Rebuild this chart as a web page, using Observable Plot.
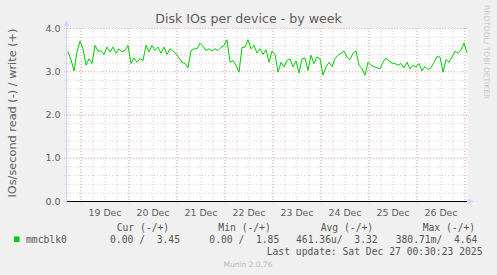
<!DOCTYPE html>
<html>
<head>
<meta charset="utf-8">
<script src="https://cdn.jsdelivr.net/npm/d3@7"></script>
<script src="https://cdn.jsdelivr.net/npm/@observablehq/plot@0.6"></script>
<style>
  html, body { margin: 0; padding: 0; background: #f0f0f0; }
  #chart { width: 497px; height: 275px; }
  svg text { white-space: pre; }
</style>
</head>
<body>
<div id="chart"></div>
<script>
// ---- data ----
const title = "Disk IOs per device - by week";
const yLabel = "IOs/second read (-) / write (+)";
const seriesName = "mmcblk0";
const firstSample = Date.UTC(2025, 11, 18, 17, 30);
const sampleStepHours = 1.5;
const writeValues = [
  3.46, 3.28, 3.02, 3.46, 3.71, 3.53, 3.15, 3.30, 3.19, 3.61,
  3.48, 3.48, 3.40, 3.57, 3.46, 3.57, 3.43, 3.53, 3.46, 3.49,
  3.61, 3.19, 3.32, 3.22, 3.30, 3.26, 3.61, 3.46, 3.61, 3.49,
  3.57, 3.43, 3.57, 3.40, 3.53, 3.48, 3.42, 3.32, 3.22, 3.19,
  3.09, 3.49, 3.53, 3.53, 3.66, 3.59, 3.49, 3.53, 3.48, 3.53,
  3.49, 3.56, 3.61, 3.74, 3.22, 3.26, 3.15, 2.99, 3.56, 3.57,
  3.74, 3.53, 3.61, 3.43, 3.53, 3.40, 3.51, 3.22, 3.48, 3.40,
  2.99, 3.22, 3.11, 3.26, 3.30, 3.11, 3.25, 2.97, 3.30, 3.32,
  3.03, 3.38, 3.19, 3.34, 3.30, 2.92, 3.11, 3.22, 3.12, 3.30,
  3.38, 3.43, 3.48, 3.34, 3.28, 3.43, 3.48, 3.15, 3.07, 2.92,
  3.22, 3.15, 3.12, 3.09, 3.07, 3.22, 3.32, 3.25, 3.20, 3.19,
  3.15, 3.19, 3.09, 3.22, 3.07, 3.15, 3.11, 3.19, 3.02, 3.12,
  3.05, 3.09, 3.22, 3.35, 3.34, 2.99, 3.28, 3.22, 3.34, 3.48,
  3.43, 3.51, 3.66, 3.45
];
const xStart = Date.UTC(2025, 11, 18, 17, 15);
const xEnd = Date.UTC(2025, 11, 27, 1, 15);
const xLabelDays = [19, 20, 21, 22, 23, 24, 25, 26];
const yTicks = [0, 1, 2, 3, 4];
const legendHeaders = ["Cur (-/+)", "Min (-/+)", "Avg (-/+)", "Max (-/+)"];
const legendValues = ["0.00 /  3.45", "0.00 /  1.85", "461.36u/  3.32", "380.71m/  4.64"];
const lastUpdate = "Last update: Sat Dec 27 00:30:23 2025";
const footer = "Munin 2.0.76";
const watermark = "RRDTOOL/ TOBI OETIKER";

// ---- build ----
const data = writeValues.map((v, i) => ({
  t: new Date(firstSample + i * sampleStepHours * 3600e3),
  v
}));
const xLabelDates = xLabelDays.map(d => new Date(Date.UTC(2025, 11, d, 12)));
const minorX = d3.utcHour.every(6).range(new Date(xStart), new Date(xEnd));
const majorX = d3.utcDay.range(new Date(xStart), new Date(xEnd));
const minorY = d3.ticks(0, 4, 20);

const gridGrey = "#d2d2d2";
const gridRed = "#eaa8a8";
const fontColor = "#5e5e5e";

const chart = Plot.plot({
  width: 497,
  height: 275,
  marginLeft: 67,
  marginRight: 30,
  marginTop: 28,
  marginBottom: 74,
  style: {background: "transparent", fontFamily: "DejaVu Sans", color: fontColor, overflow: "visible"},
  x: {type: "utc", domain: [new Date(xStart), new Date(xEnd)], axis: null},
  y: {domain: [0, 4], axis: null},
  marks: [
    Plot.frame({fill: "white", stroke: null}),
    Plot.ruleY(minorY, {stroke: gridGrey, strokeDasharray: "1,2", insetLeft: -3}),
    Plot.ruleX(minorX, {stroke: gridGrey, strokeDasharray: "1,2"}),
    Plot.ruleY(yTicks, {stroke: gridRed, strokeDasharray: "1,2", insetLeft: -3}),
    Plot.ruleX(majorX, {stroke: gridRed, strokeDasharray: "1,2", insetBottom: -4}),
    Plot.line(data, {x: "t", y: "v", stroke: "#00cc00", strokeWidth: 1}),
    Plot.ruleY([0], {stroke: "black", strokeWidth: 1}),
    Plot.axisY({ticks: yTicks, tickFormat: d3.format(".1f"), tickSize: 0, tickPadding: 7,
      fontSize: 9.5, fill: fontColor, label: null}),
    Plot.axisX({ticks: xLabelDates, tickFormat: d3.utcFormat("%d %b"), tickSize: 0, tickPadding: 8,
      fontSize: 9.4, fill: fontColor, label: null})
  ]
});

const svg = d3.select(chart);
const axisColor = "#CFD6F8";
// axis lines with arrows
svg.append("line").attr("x1", 66.5).attr("x2", 66.5).attr("y1", 204).attr("y2", 23)
  .attr("stroke", axisColor);
svg.append("path").attr("d", "M63.5,26 L66.5,20 L69.5,26 Z").attr("fill", axisColor);
svg.append("line").attr("x1", 467).attr("x2", 471).attr("y1", 201.5).attr("y2", 201.5)
  .attr("stroke", axisColor);
svg.append("path").attr("d", "M468,198.5 L474,201.5 L468,204.5 Z").attr("fill", axisColor);
svg.append("line").attr("x1", 63).attr("x2", 67).attr("y1", 201.5).attr("y2", 201.5)
  .attr("stroke", axisColor);

function addText(x, y, str, opts) {
  const t = svg.append("text").attr("x", x).attr("y", y)
    .attr("text-anchor", opts.anchor || "start")
    .attr("font-family", opts.family || "DejaVu Sans")
    .attr("font-size", opts.size)
    .attr("fill", opts.fill || fontColor)
    .text(str);
  if (opts.transform) t.attr("transform", opts.transform).attr("x", 0).attr("y", 0);
  return t;
}

// title
addText(248.5, 23, title, {anchor: "middle", size: 12.6});
// y label
addText(0, 0, yLabel, {anchor: "middle", size: 11.3, transform: "translate(15.5,113) rotate(-90)"});
// watermark
addText(0, 0, watermark, {anchor: "start", size: 7.5, fill: "#c8c8c8", transform: "translate(484,5) rotate(90)"});

// legend
const mono = "DejaVu Sans Mono";
const legendFont = 9.7;
const legendColor = "#555";
const headerX = [116.7, 218.3, 320.7, 422.7];
const valueX = [110, 209.3, 296, 395.7];
svg.append("rect").attr("x", 14).attr("y", 236.5).attr("width", 5.5).attr("height", 5.5).attr("fill", "#00cc00");
addText(26, 243, seriesName, {family: mono, size: legendFont, fill: legendColor});
legendHeaders.forEach((h, i) => addText(headerX[i], 231, h, {family: mono, size: legendFont, fill: legendColor}));
legendValues.forEach((h, i) => addText(valueX[i], 243, h, {family: mono, size: legendFont, fill: legendColor}));
addText(482.5, 254.5, lastUpdate, {anchor: "end", family: mono, size: legendFont, fill: legendColor});
addText(248, 266.5, footer, {anchor: "middle", size: 7.5, fill: "#bbb"});

document.getElementById("chart").appendChild(chart);
</script>
</body>
</html>
